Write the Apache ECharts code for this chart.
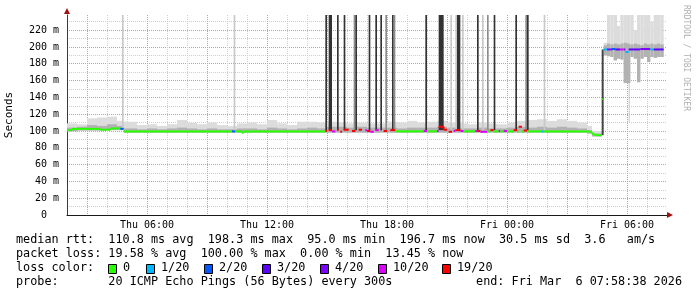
<!DOCTYPE html>
<html><head><meta charset="utf-8">
<script src="https://cdn.jsdelivr.net/npm/echarts@6/dist/echarts.min.js"></script>
<style>html,body{margin:0;padding:0;background:#fff}#c{width:697px;height:297px}</style>
</head><body><div id="c"></div>
<script>
// time axis: minutes since Thu 00:00 (Thu 02:00 .. Fri 08:00)
const X_MIN = 120, X_MAX = 1920;
const Y_MIN = 0, Y_MAX = 238;
const xLabelValues = [360, 720, 1080, 1440, 1800];
const xLabelTexts = ['Thu 06:00', 'Thu 12:00', 'Thu 18:00', 'Fri 00:00', 'Fri 06:00'];
const yLabelValues = [0, 20, 40, 60, 80, 100, 120, 140, 160, 180, 200, 220];
const yLabelTexts = ['0  ', '20 m', '40 m', '60 m', '80 m', '100 m', '120 m', '140 m', '160 m', '180 m', '200 m', '220 m'];

const lossLevels = [0, 1, 2, 3, 4, 10, 19];
const lossLabels = ['0', '1/20', '2/20', '3/20', '4/20', '10/20', '19/20'];
const lossColors = ['#26ff00', '#00b8ff', '#0059ff', '#5e00ff', '#7e00ff', '#dd00ff', '#ff0000'];

// smoke bands: [start, end, low, midTop, high]  (ms)
const smokeBands = [
  [120,150,99.5,104,109],[150,180,100.5,105,108],[180,210,100.5,107,115],[210,240,100.5,106,116],
  [240,270,101,108,117],[270,290,101,106,112],[290,330,98,103,111],[330,360,98,102,107],
  [360,390,98,103,108],[390,420,98,102,106],[420,450,98,103,108],[450,480,98,104,113],
  [480,510,98,103,110],[510,540,98,102,108],[540,570,98,103,110],[570,600,98,102,107],
  [600,630,98,102,106],[630,660,98,103,109],[660,690,98,103,110],[690,720,98,102,108],
  [720,750,98,104,113],[750,780,98,103,109],[780,810,98,102,107],[810,840,98,103,111],
  [840,870,98,104,111],[870,900,98,103,110],[900,930,98,105,111],[930,960,98,105,110],
  [960,990,98,104,109],[990,1020,98,105,110],[1020,1050,98,104,109],[1050,1080,98,104,109],
  [1080,1110,98,104,111],[1110,1140,98,103,110],[1140,1170,98,104,112],[1170,1200,98,104,110],
  [1200,1230,98,104,111],[1230,1260,98,105,112],[1260,1290,98,104,110],[1290,1320,98,103,109],
  [1320,1350,98,103,108],[1350,1380,98,104,110],[1380,1410,98,103,109],[1410,1440,98,103,108],
  [1440,1470,98,104,110],[1470,1500,98,105,112],[1500,1530,98,104,113],[1530,1560,98,105,114],
  [1560,1590,98,104,112],[1590,1620,98,105,114],[1620,1650,98,104,112],[1650,1680,98,103,110],
  [1680,1695,97,101,106],[1695,1725,93.5,97,100],
  [1730,1740,190,202,205],[1740,1750,189,204,238],[1750,1760,188,203,238],[1760,1770,184,204,238],
  [1770,1780,186,203,225],[1780,1790,185,204,238],[1790,1800,157,205,238],[1800,1810,157,204,238],
  [1810,1820,188,203,238],[1820,1830,186,204,220],[1830,1840,158,203,238],[1840,1850,186,202,238],
  [1850,1860,188,204,238],[1860,1870,182,203,238],[1870,1880,188,204,230],[1880,1890,187,203,238],
  [1890,1900,188,204,238],[1900,1910,188,203,238]
];

// smoke columns reaching far up (lost pings): [start, end, low, high, shade]
const smokeSpikes = [
  [285,290,103,238,'l'],[620,625,100,238,'l'],
  [895,900,101,238,'d'],[905,915,101,238,'d'],[930,935,101,238,'d'],[950,955,101,238,'d'],
  [980,985,101,238,'m'],[985,990,101,238,'d'],[1025,1030,101,238,'d'],[1045,1050,101,238,'d'],
  [1060,1065,101,238,'d'],[1075,1080,101,238,'m'],[1095,1100,101,238,'d'],[1100,1105,101,238,'m'],
  [1195,1200,101,238,'d'],[1235,1250,101,238,'d'],[1270,1275,101,238,'l'],[1285,1290,101,238,'l'],
  [1290,1300,101,238,'d'],[1305,1310,101,238,'l'],[1350,1355,101,238,'d'],[1365,1370,101,238,'l'],
  [1380,1385,101,238,'m'],[1400,1405,101,238,'d'],[1465,1470,101,238,'d'],[1495,1500,101,238,'m'],
  [1500,1505,101,238,'d'],[1550,1555,101,238,'l'],
  [1724,1730,95,197,'k'],[1805,1808,111,157,'l']
];
const shadeColors = { l: '#c8c8c8', m: '#8c8c8c', d: '#333333', k: '#444444' };

// median rtt steps: [start, end, value (ms), lost pings of 20]
const medianSteps = [
  [120,135,101,0],[135,220,102.5,0],[220,250,101.5,0],[250,280,103,0],[280,290,102.5,2],
  [290,615,99.5,0],[615,625,99.5,2],[625,645,99.5,0],[645,650,98,0],[650,895,99.5,0],
  [895,900,100,19],[905,915,101,19],[915,925,99.5,10],[930,935,101.5,19],[940,945,99,19],
  [950,965,101.5,19],[975,985,100,19],[995,1005,101.5,19],[1015,1020,101,10],[1020,1030,100,19],
  [1030,1040,99,10],[1045,1055,101,10],[1070,1080,100,19],[1090,1105,101,19],[1105,1190,99.5,0],
  [1190,1200,100,10],[1200,1230,99.5,0],[1230,1235,100,10],[1235,1250,105,19],[1250,1260,101.5,19],
  [1265,1275,99,19],[1280,1285,100,10],[1285,1300,101,19],[1300,1310,100,10],[1310,1345,99.5,0],
  [1345,1350,100,10],[1350,1360,100,19],[1360,1380,99,10],[1380,1390,99.5,0],[1390,1400,101,19],
  [1400,1415,99.5,0],[1415,1420,100,10],[1420,1430,99.5,0],[1430,1440,100,10],[1440,1460,99.5,0],
  [1460,1470,101,19],[1470,1475,99.5,0],[1475,1485,105,19],[1485,1490,99.5,0],[1490,1500,100.5,19],
  [1500,1545,99.5,0],[1545,1550,99.5,1],[1550,1690,99.5,0],[1690,1695,98.5,0],[1695,1700,97,0],
  [1700,1705,95.5,0],[1705,1724,95,0],[1726,1728,138,0],
  [1730,1740,197,1],[1740,1755,197,4],[1755,1765,197.5,2],[1765,1780,197,3],[1780,1790,197,10],
  [1790,1795,197,4],[1795,1805,194,1],[1805,1840,197,3],[1840,1870,197.5,4],[1870,1880,197,1],
  [1880,1910,197,3]
];

const footerLines = [
  'median rtt:  110.8 ms avg  198.3 ms max  95.0 ms min  196.7 ms now  30.5 ms sd  3.6   am/s',
  'packet loss: 19.58 % avg  100.00 % max  0.00 % min  13.45 % now',
  'loss color:',
  'probe:       20 ICMP Echo Pings (56 Bytes) every 300s'
];
const footerEnd = 'end: Fri Mar  6 07:58:38 2026';

// tick lists (grid)
const xMinor = [], xMajor = [];
for (let t = X_MIN + 60; t < X_MAX; t += 60) { if (t % 180 === 0) xMajor.push(t); else xMinor.push(t); }
const yMinor = [], yMajor = [];
for (let v = 10; v < Y_MAX; v += 10) { if (v % 20 === 0) yMajor.push(v); else yMinor.push(v); }

const MONO = 'DejaVu Sans Mono';
const chart = echarts.init(document.getElementById('c'), null, { renderer: 'canvas' });

function clampY(v) { return Math.max(Y_MIN, Math.min(Y_MAX, v)); }

function bandItem(params, api) {
  const s = api.value(0), e = api.value(1);
  const lo = clampY(api.value(2)), mid = clampY(api.value(3)), hi = clampY(api.value(4));
  const a = api.coord([s, lo]), b = api.coord([e, hi]), m = api.coord([e, mid]);
  return { type: 'group', children: [
    { type: 'rect', shape: { x: a[0], y: b[1], width: b[0] - a[0], height: a[1] - b[1] }, style: { fill: '#dcdcdc' } },
    { type: 'rect', shape: { x: a[0], y: m[1], width: b[0] - a[0], height: a[1] - m[1] }, style: { fill: '#b2b2b2' } }
  ]};
}
function spikeItem(params, api) {
  const d = smokeSpikes[params.dataIndex];
  const a = api.coord([d[0], clampY(d[2])]), b = api.coord([d[1], clampY(d[3])]);
  return { type: 'rect', shape: { x: a[0], y: b[1], width: b[0] - a[0], height: a[1] - b[1] }, style: { fill: shadeColors[d[4]] } };
}
function medianItem(params, api) {
  const i = params.dataIndex;
  const d = medianSteps[i];
  const color = lossColors[lossLevels.indexOf(d[3])];
  const a = api.coord([d[0], d[2]]), b = api.coord([d[1], d[2]]);
  const children = [{ type: 'line', shape: { x1: a[0], y1: a[1], x2: b[0], y2: b[1] }, style: { stroke: color, lineWidth: 2 } }];
  const prev = medianSteps[i - 1];
  if (prev && prev[1] === d[0] && prev[2] !== d[2] && prev[3] === d[3]) {
    const c = api.coord([d[0], prev[2]]);
    children.push({ type: 'line', shape: { x1: c[0], y1: c[1], x2: a[0], y2: a[1] }, style: { stroke: color, lineWidth: 2 } });
  }
  return { type: 'group', children };
}

const graphics = [];
const lineY = [241, 255, 269, 283];
const FOOT_FONT = '11.8px "DejaVu Sans Mono"';
footerLines.forEach((t, i) => graphics.push({ type: 'text', left: 16, top: lineY[i] - 7, style: { text: t, font: FOOT_FONT, fill: '#000' } }));
graphics.push({ type: 'text', right: 697 - 682, top: lineY[3] - 7, style: { text: footerEnd, font: FOOT_FONT, fill: '#000' } });
const boxX = [108, 146, 204, 262, 320, 378, 442];
lossLabels.forEach((lab, i) => {
  graphics.push({ type: 'rect', shape: { x: boxX[i] + 0.5, y: lineY[2] - 4.5, width: 8, height: 9 }, style: { fill: lossColors[i], stroke: '#000', lineWidth: 1 } });
  graphics.push({ type: 'text', x: boxX[i] + 15, y: lineY[2] - 7, style: { text: lab, font: FOOT_FONT, fill: '#000' } });
});
graphics.push({ type: 'text', x: 690, y: 5, rotation: -Math.PI / 2, style: { text: 'RRDTOOL / TOBI OETIKER', font: '8px "DejaVu Sans Mono"', fill: '#b0b0b0' } });

const MINOR = { color: '#cfcfcf', width: 1, type: [1, 1] };
const MAJOR = { color: '#e79191', width: 1, type: [1, 1] };
const axisCommon = { type: 'value', gridIndex: 0 };
chart.setOption({
  animation: false,
  backgroundColor: '#ffffff',
  textStyle: { fontFamily: MONO },
  grid: { left: 67, right: 30, top: 15, bottom: 82, containLabel: false, outerBoundsMode: 'none' },
  xAxis: [
    Object.assign({}, axisCommon, { position: 'bottom', min: X_MIN, max: X_MAX, axisLine: { show: false }, axisLabel: { show: false },
      axisTick: { show: false, customValues: xMinor }, splitLine: { show: true, lineStyle: MINOR } }),
    Object.assign({}, axisCommon, { position: 'bottom', min: X_MIN, max: X_MAX, axisLine: { show: false }, axisLabel: { show: false },
      axisTick: { show: false, customValues: xMajor }, splitLine: { show: true, lineStyle: MAJOR } }),
    Object.assign({}, axisCommon, { position: 'bottom', min: X_MIN, max: X_MAX,
      axisLine: { show: true, onZero: false, lineStyle: { color: '#1a1a1a', width: 1 } },
      axisTick: { show: false, customValues: xLabelValues },
      axisLabel: { show: true, customValues: xLabelValues, margin: 5, fontFamily: MONO, fontSize: 10, color: '#000',
        formatter: v => xLabelTexts[xLabelValues.indexOf(v)] },
      splitLine: { show: false } }),
    Object.assign({}, axisCommon, { position: 'bottom', min: X_MIN, max: X_MAX,
      axisLine: { show: true, onZero: false, symbol: ['none', 'triangle'], symbolSize: [6, 6], symbolOffset: [0, 3], lineStyle: { color: '#a01010', width: 0 } },
      axisTick: { show: false }, axisLabel: { show: false }, splitLine: { show: false } })
  ],
  yAxis: [
    Object.assign({}, axisCommon, { position: 'left', min: Y_MIN, max: Y_MAX, axisLine: { show: false }, axisLabel: { show: false },
      axisTick: { show: false, customValues: yMinor }, splitLine: { show: true, lineStyle: MINOR } }),
    Object.assign({}, axisCommon, { position: 'left', min: Y_MIN, max: Y_MAX,
      axisLine: { show: true, onZero: false, lineStyle: { color: '#3a3a3a', width: 1 } },
      axisTick: { show: false, customValues: yMajor },
      axisLabel: { show: true, customValues: yLabelValues, margin: 8, fontFamily: MONO, fontSize: 10, color: '#000',
        formatter: v => yLabelTexts[yLabelValues.indexOf(v)] },
      splitLine: { show: true, lineStyle: MAJOR },
      name: 'Seconds', nameLocation: 'middle', nameGap: 52, nameRotate: 90,
      nameTextStyle: { fontFamily: MONO, fontSize: 11, color: '#000' } }),
    Object.assign({}, axisCommon, { position: 'left', min: Y_MIN, max: Y_MAX,
      axisLine: { show: true, onZero: false, symbol: ['none', 'triangle'], symbolSize: [6, 6], symbolOffset: [0, 4], lineStyle: { color: '#a01010', width: 0 } },
      axisTick: { show: false }, axisLabel: { show: false }, splitLine: { show: false } })
  ],
  series: [
    { type: 'custom', name: 'smoke', xAxisIndex: 2, yAxisIndex: 1, renderItem: bandItem, data: smokeBands, z: 2, silent: true },
    { type: 'custom', name: 'lost', xAxisIndex: 2, yAxisIndex: 1, renderItem: spikeItem, data: smokeSpikes.map(d => [d[0], d[1], d[2], d[3]]), z: 3, silent: true },
    { type: 'custom', name: 'median', xAxisIndex: 2, yAxisIndex: 1, renderItem: medianItem, data: medianSteps, z: 4, silent: true }
  ],
  graphic: graphics
});
</script></body></html>
